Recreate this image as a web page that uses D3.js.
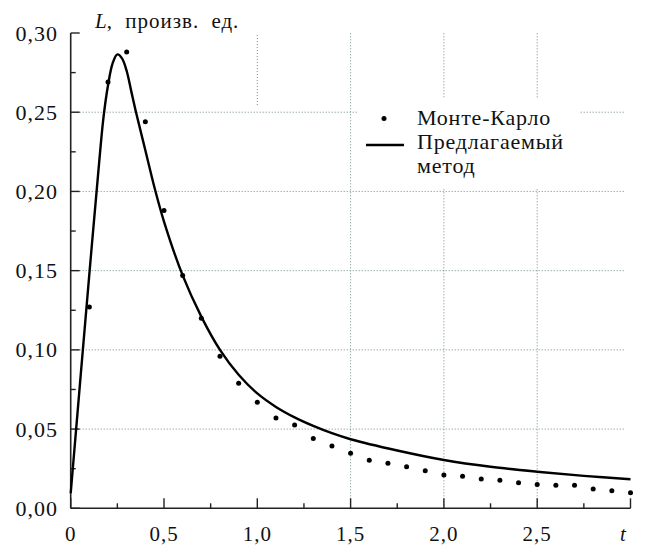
<!DOCTYPE html>
<html>
<head>
<meta charset="utf-8">
<script src="https://cdn.jsdelivr.net/npm/d3@7"></script>
<style>
  body { margin: 0; background: #fff; }
</style>
</head>
<body>
<div id="chart"></div>
<script>
// Monte-Carlo points
var mcT = [0.1, 0.2, 0.3, 0.4, 0.5, 0.6, 0.7, 0.8, 0.9, 1.0,
           1.1, 1.2, 1.3, 1.4, 1.5, 1.6, 1.7, 1.8, 1.9, 2.0,
           2.1, 2.2, 2.3, 2.4, 2.5, 2.6, 2.7, 2.8, 2.9, 3.0];
var mcL = [0.127, 0.269, 0.288, 0.244, 0.188, 0.147, 0.120, 0.096, 0.079, 0.067,
           0.057, 0.0525, 0.044, 0.0393, 0.0347, 0.0303, 0.0284, 0.0262, 0.0237, 0.021,
           0.0202, 0.0185, 0.0177, 0.0161, 0.0151, 0.0145, 0.0145, 0.0122, 0.0111, 0.0098];

// proposed method curve
var curveT = [0, 0.05, 0.1, 0.15, 0.175, 0.2, 0.225, 0.25, 0.275, 0.3, 0.325, 0.35,
              0.4, 0.45, 0.5, 0.6, 0.7, 0.8, 0.9, 1.0, 1.1, 1.2, 1.3, 1.4, 1.5,
              1.75, 2.0, 2.25, 2.5, 2.75, 3.0];
var curveL = [0.0095, 0.079, 0.148, 0.215, 0.246, 0.267, 0.281, 0.2865, 0.284, 0.276, 0.263, 0.250,
              0.226, 0.202, 0.181, 0.147, 0.121, 0.1, 0.0843, 0.0725, 0.0640, 0.0574, 0.0520, 0.0474, 0.0436,
              0.0365, 0.0305, 0.0262, 0.0231, 0.0205, 0.0183];

var xTicks = [0, 0.5, 1.0, 1.5, 2.0, 2.5];
var xTickLabels = ['0', '0,5', '1,0', '1,5', '2,0', '2,5'];
var yTicks = [0, 0.05, 0.10, 0.15, 0.20, 0.25, 0.30];
var yTickLabels = ['0,00', '0,05', '0,10', '0,15', '0,20', '0,25', '0,30'];

var gridY = [0.05, 0.10, 0.15, 0.20, 0.25];
var gridX = [1.0, 1.5, 2.0, 2.5];
var gridXFrom = [0.2545, 0, 0, 0];

var legendLabels = ['Монте-Карло', 'Предлагаемый', 'метод'];

var W = 645, H = 545;
var svg = d3.select('#chart').append('svg')
  .attr('width', W)
  .attr('height', H)
  .attr('font-family', "'Liberation Serif', 'Times New Roman', serif")
  .attr('fill', '#111');

var x = d3.scaleLinear().domain([0, 3]).range([70.7, 630.5]);
var y = d3.scaleLinear().domain([0, 0.30]).range([508.3, 33]);

var gridColor = '#6f8a88';

// grid
svg.append('g').selectAll('line.gy')
  .data(gridY).enter().append('line')
  .attr('x1', x(0)).attr('x2', x(2.97))
  .attr('y1', function(d) { return y(d); })
  .attr('y2', function(d) { return y(d); })
  .attr('stroke', gridColor).attr('stroke-width', 1)
  .attr('stroke-dasharray', '1,2');

svg.append('g').selectAll('line.gx')
  .data(gridX).enter().append('line')
  .attr('x1', function(d) { return x(d); })
  .attr('x2', function(d) { return x(d); })
  .attr('y1', function(d, i) { return y(gridXFrom[i]); })
  .attr('y2', y(0.30))
  .attr('stroke', gridColor).attr('stroke-width', 1)
  .attr('stroke-dasharray', '1,2');

// legend background hides grid
svg.append('rect')
  .attr('x', 358).attr('y', 99)
  .attr('width', 222).attr('height', 90)
  .attr('fill', '#fff');

// axes with inward ticks (major every 0.5 / 0.05, minor halfway)
var xMinor = d3.range(0, 3.01, 0.25);
var yMinor = d3.range(0, 0.301, 0.025);

var gx = svg.append('g').attr('transform', 'translate(0,' + y(0) + ')');
gx.append('line').attr('x1', x(0)).attr('x2', x(3)).attr('stroke', '#222').attr('stroke-width', 1.6);
gx.selectAll('line.t').data(xMinor).enter().append('line')
  .attr('x1', function(d) { return x(d); })
  .attr('x2', function(d) { return x(d); })
  .attr('y1', 0)
  .attr('y2', function(d, i) { return i % 2 === 0 ? -10 : -5; })
  .attr('stroke', '#222').attr('stroke-width', 1.4);

var gy = svg.append('g').attr('transform', 'translate(' + x(0) + ',0)');
gy.append('line').attr('y1', y(0)).attr('y2', y(0.30)).attr('stroke', '#222').attr('stroke-width', 1.6);
gy.selectAll('line.t').data(yMinor).enter().append('line')
  .attr('y1', function(d) { return y(d); })
  .attr('y2', function(d) { return y(d); })
  .attr('x1', 0)
  .attr('x2', function(d, i) { return i % 2 === 0 ? 9 : 5; })
  .attr('stroke', '#222').attr('stroke-width', 1.4);

// tick labels
svg.append('g').selectAll('text')
  .data(xTicks).enter().append('text')
  .attr('x', function(d) { return x(d); })
  .attr('y', 541)
  .attr('text-anchor', 'middle')
  .attr('font-size', 21)
  .attr('letter-spacing', 1)
  .text(function(d, i) { return xTickLabels[i]; });

svg.append('text')
  .attr('x', x(2.96)).attr('y', 541)
  .attr('text-anchor', 'middle')
  .attr('font-size', 21).attr('font-style', 'italic')
  .text('t');

svg.append('g').selectAll('text')
  .data(yTicks).enter().append('text')
  .attr('x', 58)
  .attr('y', function(d) { return y(d) + 7.5; })
  .attr('text-anchor', 'end')
  .attr('font-size', 22)
  .attr('letter-spacing', 1)
  .text(function(d, i) { return yTickLabels[i]; });

var yl = svg.append('text').attr('x', 95).attr('y', 28).attr('font-size', 21);
yl.append('tspan').attr('font-style', 'italic').text('L');
yl.append('tspan').text(', произв. ед.').attr('word-spacing', 6).attr('letter-spacing', 1);

// curve
var line = d3.line()
  .x(function(d) { return x(d[0]); })
  .y(function(d) { return y(d[1]); })
  .curve(d3.curveCatmullRom.alpha(0.5));

svg.append('path')
  .attr('d', line(d3.zip(curveT, curveL)))
  .attr('fill', 'none')
  .attr('stroke', '#000')
  .attr('stroke-width', 2.4);

// points
svg.append('g').selectAll('circle')
  .data(d3.zip(mcT, mcL)).enter().append('circle')
  .attr('cx', function(d) { return x(d[0]); })
  .attr('cy', function(d) { return y(d[1]); })
  .attr('r', 2.5)
  .attr('fill', '#000');

// legend
svg.append('circle').attr('cx', 384).attr('cy', 118.5).attr('r', 2.5).attr('fill', '#000');
svg.append('line').attr('x1', 366).attr('x2', 404).attr('y1', 145).attr('y2', 145)
  .attr('stroke', '#000').attr('stroke-width', 2.4);
svg.append('g').selectAll('text')
  .data(legendLabels).enter().append('text')
  .attr('x', 417)
  .attr('y', function(d, i) { return 125 + i * 24; })
  .attr('font-size', 22)
  .attr('letter-spacing', 0.8)
  .text(function(d) { return d; });
</script>
</body>
</html>
